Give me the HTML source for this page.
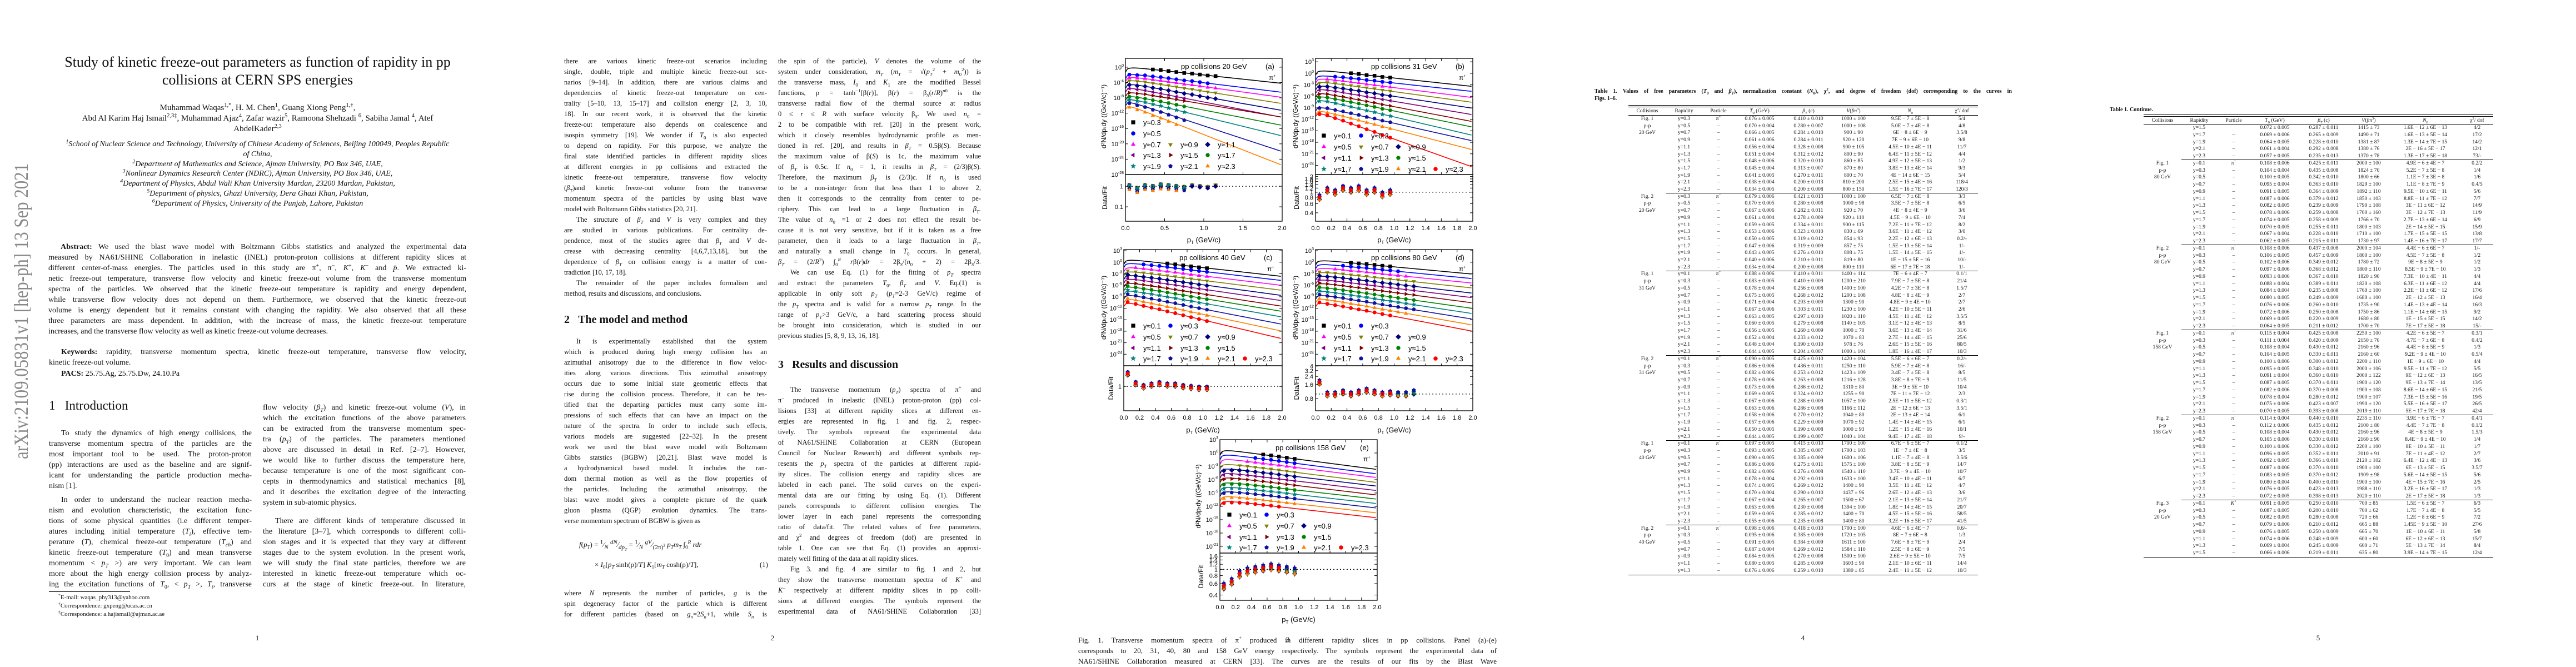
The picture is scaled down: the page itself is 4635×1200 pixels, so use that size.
<!DOCTYPE html>
<html><head><meta charset="utf-8">
<style>
html,body{margin:0;padding:0;background:#fff;}
body{width:4635px;height:1200px;position:relative;overflow:hidden;font-family:"Liberation Serif",serif;color:#111;}
.page{position:absolute;top:0;width:927px;height:1200px;overflow:hidden;background:#fff;}
.col{position:absolute;width:365px;}
.p1 .col{font-size:14px;}
.p2 .col{font-size:12.5px;}
.col div{height:19px;line-height:19px;text-align:justify;text-align-last:justify;overflow:hidden;}
.col div.e{text-align-last:left;}
.col div.i{text-indent:22px;}
.pn{position:absolute;top:1140px;left:440px;width:46px;text-align:center;font-size:13px;}
.head{position:absolute;font-weight:bold;white-space:nowrap;}
.cen{position:absolute;text-align:center;white-space:nowrap;}
.tc{position:absolute;width:140px;text-align:center;font-size:9.6px;line-height:12px;white-space:nowrap;font-family:"Liberation Serif",serif;}
.rule{position:absolute;height:0;border-top:1px solid #000;}
sup{font-size:70%;line-height:0;}
sub{font-size:70%;line-height:0;}
</style></head>
<body>

<!-- PAGE 1 -->
<div class="page p1" style="left:0">
  <svg style="position:absolute;left:0;top:280px" width="80" height="560">
    <text x="0" y="0" transform="translate(50,546) rotate(-90)" font-family="Liberation Serif" font-size="36" fill="#888" textLength="532" lengthAdjust="spacingAndGlyphs">arXiv:2109.05831v1  [hep-ph]  13 Sep 2021</text>
  </svg>
  <div class="cen" style="left:0;width:927px;top:96px;font-size:26px;line-height:32px;">Study of kinetic freeze-out parameters as function of rapidity in pp<br>collisions at CERN SPS energies</div>
  <div class="cen" style="left:0;width:927px;top:185px;font-size:15px;line-height:19px;">Muhammad Waqas<sup>1,*</sup>, H. M. Chen<sup>1</sup>, Guang Xiong Peng<sup>1,†</sup>,<br>Abd Al Karim Haj Ismail<sup>2,3‡</sup>, Muhammad Ajaz<sup>4</sup>, Zafar wazir<sup>5</sup>, Ramoona Shehzadi <sup>6</sup>, Sabiha Jamal <sup>4</sup>, Atef<br>AbdelKader<sup>2,3</sup></div>
  <div class="cen" style="left:0;width:927px;top:251px;font-size:14px;line-height:17.8px;font-style:italic;"><sup>1</sup>School of Nuclear Science and Technology, University of Chinese Academy of Sciences, Beijing 100049, Peoples Republic<br>of China,<br><sup>2</sup>Department of Mathematics and Science, Ajman University, PO Box 346, UAE,<br><sup>3</sup>Nonlinear Dynamics Research Center (NDRC), Ajman University, PO Box 346, UAE,<br><sup>4</sup>Department of Physics, Abdul Wali Khan University Mardan, 23200 Mardan, Pakistan,<br><sup>5</sup>Department of physics, Ghazi University, Dera Ghazi Khan, Pakistan,<br><sup>6</sup>Department of Physics, University of the Punjab, Lahore, Pakistan</div>
  <div class="col" style="left:87px;width:752px;top:435px;">
    <div class="i"><b>Abstract:</b> We used the blast wave model with Boltzmann Gibbs statistics and analyzed the experimental data</div>
    <div>measured by NA61/SHINE Collaboration in inelastic (INEL) proton-proton collisions at different rapidity slices at</div>
    <div>different center-of-mass energies. The particles used in this study are π<sup>+</sup>, π<sup>−</sup>, <i>K</i><sup>+</sup>, <i>K</i><sup>−</sup> and <i>p̄</i>. We extracted ki-</div>
    <div>netic freeze-out temperature, transverse flow velocity and kinetic freeze-out volume from the transverse momentum</div>
    <div>spectra of the particles. We observed that the kinetic freeze-out temperature is rapidity and energy dependent,</div>
    <div>while transverse flow velocity does not depend on them. Furthermore, we observed that the kinetic freeze-out</div>
    <div>volume is energy dependent but it remains constant with changing the rapidity. We also observed that all these</div>
    <div>three parameters are mass dependent. In addition, with the increase of mass, the kinetic freeze-out temperature</div>
    <div class="e">increases, and the transverse flow velocity as well as kinetic freeze-out volume decreases.</div>
  </div>
  <div class="col" style="left:88px;width:751px;top:624px;">
    <div class="i"><b>Keywords:</b> rapidity, transverse momentum spectra, kinetic freeze-out temperature, transverse flow velocity,</div>
    <div class="e">kinetic freeze-out volume.</div>
    <div class="e i" style="margin-top:1px"><b>PACS:</b> 25.75.Ag, 25.75.Dw, 24.10.Pa</div>
  </div>
  <div class="head" style="left:88px;top:717px;font-size:23px;font-weight:normal;">1&nbsp;&nbsp;&nbsp;Introduction</div>
  <div class="col" style="left:88px;top:770px;">
    <div class="i">To study the dynamics of high energy collisions, the</div>
    <div>transverse momentum spectra of the particles are the</div>
    <div>most important tool to be used. The proton-proton</div>
    <div>(pp) interactions are used as the baseline and are signif-</div>
    <div>icant for understanding the particle production mecha-</div>
    <div class="e">nism [1].</div>
    <div class="i" style="margin-top:6px">In order to understand the nuclear reaction mecha-</div>
    <div>nism and evolution characteristic, the excitation func-</div>
    <div>tions of some physical quantities (i.e different temper-</div>
    <div>atures including initial temperature (<i>T<sub>i</sub></i>), effective tem-</div>
    <div>perature (<i>T</i>), chemical freeze-out temperature (<i>T<sub>ch</sub></i>) and</div>
    <div>kinetic freeze-out temperature (<i>T</i><sub>0</sub>) and mean transverse</div>
    <div>momentum &lt; <i>p<sub>T</sub></i> &gt;) are very important. We can learn</div>
    <div>more about the high energy collision process by analyz-</div>
    <div>ing the excitation functions of <i>T</i><sub>0</sub>, &lt; <i>p<sub>T</sub></i> &gt;, <i>T<sub>i</sub></i>, transverse</div>
  </div>
  <div class="rule" style="left:88px;top:1064px;width:146px;"></div>
  <div style="position:absolute;left:105px;top:1068px;font-size:11px;line-height:15px;"><sup>*</sup>E-mail: waqas_phy313@yahoo.com<br><sup>†</sup>Correspondence: gxpeng@ucas.ac.cn<br><sup>‡</sup>Correspondence: a.hajismail@ajman.ac.ae</div>
  <div class="col" style="left:473px;top:724px;">
    <div>flow velocity (<i>β<sub>T</sub></i>) and kinetic freeze-out volume (<i>V</i>), in</div>
    <div>which the excitation functions of the above parameters</div>
    <div>can be extracted from the transverse momentum spec-</div>
    <div>tra (<i>p<sub>T</sub></i>) of the particles. The parameters mentioned</div>
    <div>above are discussed in detail in Ref. [2–7]. However,</div>
    <div>we would like to further discuss the temperature here,</div>
    <div>because temperature is one of the most significant con-</div>
    <div>cepts in thermodynamics and statistical mechanics [8],</div>
    <div>and it describes the excitation degree of the interacting</div>
    <div class="e">system in sub-atomic physics.</div>
    <div class="i" style="margin-top:14px">There are different kinds of temperature discussed in</div>
    <div>the literature [3–7], which corresponds to different colli-</div>
    <div>sion stages and it is expected that they vary at different</div>
    <div>stages due to the system evolution. In the present work,</div>
    <div>we will study the final state particles, therefore we are</div>
    <div>interested in kinetic freeze-out temperature which oc-</div>
    <div>curs at the stage of kinetic freeze-out. In literature,</div>
  </div>
  <div class="pn">1</div>
</div>

<!-- PAGE 2 -->
<div class="page p2" style="left:927px">
  <div class="col" style="left:88px;top:101px;">
    <div>there are various kinetic freeze-out scenarios including</div>
    <div>single, double, triple and multiple kinetic freeze-out sce-</div>
    <div>narios [9–14]. In addition, there are various claims and</div>
    <div>dependencies of kinetic freeze-out temperature on cen-</div>
    <div>trality [5–10, 13, 15–17] and collision energy [2, 3, 10,</div>
    <div>18]. In our recent work, it is observed that the kinetic</div>
    <div>freeze-out temperature also depends on coalescence and</div>
    <div>isospin symmetry [19]. We wonder if <i>T</i><sub>0</sub> is also expected</div>
    <div>to depend on rapidity. For this purpose, we analyze the</div>
    <div>final state identified particles in different rapidity slices</div>
    <div>at different energies in pp collisions and extracted the</div>
    <div>kinetic freeze-out temperature, transverse flow velocity</div>
    <div>(<i>β<sub>T</sub></i>)and kinetic freeze-out volume from the transverse</div>
    <div>momentum spectra of the particles by using blast wave</div>
    <div class="e">model with Boltzmann Gibbs statistics [20, 21].</div>
    <div class="i">The structure of <i>β<sub>T</sub></i> and <i>V</i> is very complex and they</div>
    <div>are studied in various publications. For centrality de-</div>
    <div>pendence, most of the studies agree that <i>β<sub>T</sub></i> and <i>V</i> de-</div>
    <div>crease with decreasing centrality [4,6,7,13,18], but the</div>
    <div>dependence of <i>β<sub>T</sub></i> on collision energy is a matter of con-</div>
    <div class="e">tradiction [10, 17, 18].</div>
    <div class="i">The remainder of the paper includes formalism and</div>
    <div class="e">method, results and discussions, and conclusions.</div>
  </div>
  <div class="head" style="left:88px;top:564px;font-size:20px;">2&nbsp;&nbsp;&nbsp;The model and method</div>
  <div class="col" style="left:88px;top:605px;">
    <div class="i">It is experimentally established that the system</div>
    <div>which is produced during high energy collision has an</div>
    <div>azimuthal anisotropy due to the difference in flow veloc-</div>
    <div>ities along various directions. This azimuthal anisotropy</div>
    <div>occurs due to some initial state geometric effects that</div>
    <div>rise during the collision process. Therefore, it can be tes-</div>
    <div>tified that the departing particles must carry some im-</div>
    <div>pressions of such effects that can have an impact on the</div>
    <div>nature of the spectra. In order to include such effects,</div>
    <div>various models are suggested [22–32]. In the present</div>
    <div>work we used the blast wave model with Boltzmann</div>
    <div>Gibbs statstics (BGBW) [20,21]. Blast wave model is</div>
    <div>a hydrodynamical based model. It includes the ran-</div>
    <div>dom thermal motion as well as the flow properties of</div>
    <div>the particles. Including the azimuthal anisotropy, the</div>
    <div>blast wave model gives a complete picture of the quark</div>
    <div>gluon plasma (QGP) evolution dynamics. The trans-</div>
    <div class="e">verse momentum spectrum of BGBW is given as</div>
  </div>
  <div style="position:absolute;left:115px;top:962px;width:335px;font-size:13px;">
    <div style="height:36px;line-height:36px;"><i>f</i>(<i>p<sub>T</sub></i>) = <sup style="font-size:11px">1</sup>⁄<sub style="font-size:11px"><i>N</i></sub> <sup style="font-size:11px"><i>dN</i></sup>⁄<sub style="font-size:11px"><i>dp<sub>T</sub></i></sub> = <sup style="font-size:11px">1</sup>⁄<sub style="font-size:11px"><i>N</i></sub> <sup style="font-size:11px"><i>gV</i></sup>⁄<sub style="font-size:11px">(2π)<sup>2</sup></sub> <i>p<sub>T</sub>m<sub>T</sub></i> ∫<sub>0</sub><sup><i>R</i></sup> <i>rdr</i></div>
    <div style="height:36px;line-height:36px;padding-left:28px;">× <i>I</i><sub>0</sub>[<i>p<sub>T</sub></i> sinh(ρ)/<i>T</i>] <i>K</i><sub>1</sub>[<i>m<sub>T</sub></i> cosh(ρ)/<i>T</i>],<span style="position:absolute;right:-5px">(1)</span></div>
  </div>
  <div class="col" style="left:88px;top:1058px;">
    <div>where <i>N</i> represents the number of particles, <i>g</i> is the</div>
    <div>spin degeneracy factor of the particle which is different</div>
    <div>for different particles (based on <i>g<sub>n</sub></i>=2<i>S<sub>n</sub></i>+1, while <i>S<sub>n</sub></i> is</div>
  </div>
  <div class="col" style="left:473px;top:101px;">
    <div>the spin of the particle), <i>V</i> denotes the volume of the</div>
    <div>system under consideration, <i>m<sub>T</sub></i> (<i>m<sub>T</sub></i> = √(<i>p<sub>T</sub></i><sup>2</sup> + <i>m</i><sub>0</sub><sup>2</sup>)) is</div>
    <div>the transverse mass, <i>I</i><sub>0</sub> and <i>K</i><sub>1</sub> are the modified Bessel</div>
    <div>functions, ρ = tanh<sup>−1</sup>[β(<i>r</i>)], β(<i>r</i>) = β<sub><i>S</i></sub>(<i>r</i>/<i>R</i>)<sup><i>n</i>0</sup> is the</div>
    <div>transverse radial flow of the thermal source at radius</div>
    <div>0 ≤ <i>r</i> ≤ <i>R</i> with surface velocity β<sub><i>S</i></sub>. We used <i>n</i><sub>0</sub> =</div>
    <div>2 to be compatible with ref. [20] in the present work,</div>
    <div>which it closely resembles hydrodynamic profile as men-</div>
    <div>tioned in ref. [20], and results in <i>β<sub>T</sub></i> = 0.5β(<i>S</i>). Because</div>
    <div>the maximum value of β(<i>S</i>) is 1c, the maximum value</div>
    <div>of <i>β<sub>T</sub></i> is 0.5c. If <i>n</i><sub>0</sub> = 1, it results in <i>β<sub>T</sub></i> = (2/3)β(<i>S</i>).</div>
    <div>Therefore, the maximum <i>β<sub>T</sub></i> is (2/3)c. If <i>n</i><sub>0</sub> is used</div>
    <div>to be a non-integer from that less than 1 to above 2,</div>
    <div>then it corresponds to the centrality from center to pe-</div>
    <div>riphery. This can lead to a large fluctuation in <i>β<sub>T</sub></i>.</div>
    <div>The value of <i>n</i><sub>0</sub> =1 or 2 does not effect the result be-</div>
    <div>cause it is not very sensitive, but if it is taken as a free</div>
    <div>parameter, then it leads to a large fluctuation in <i>β<sub>T</sub></i>,</div>
    <div>and naturally a small change in <i>T</i><sub>0</sub> occurs. In general,</div>
    <div><i>β<sub>T</sub></i> = (2/<i>R</i><sup>2</sup>) ∫<sub>0</sub><sup><i>R</i></sup> <i>r</i>β(<i>r</i>)<i>dr</i> = 2β<sub><i>S</i></sub>/(<i>n</i><sub>0</sub> + 2) = 2β<sub><i>S</i></sub>/3.</div>
    <div class="i">We can use Eq. (1) for the fitting of <i>p<sub>T</sub></i> spectra</div>
    <div>and extract the parameters <i>T</i><sub>0</sub>, <i>β<sub>T</sub></i> and <i>V</i>. Eq.(1) is</div>
    <div>applicable in only soft <i>p<sub>T</sub></i> (<i>p<sub>T</sub></i>=2-3 GeV/c) regime of</div>
    <div>the <i>p<sub>T</sub></i> spectra and is valid for a narrow <i>p<sub>T</sub></i> range. In the</div>
    <div>range of <i>p<sub>T</sub></i>&gt;3 GeV/c, a hard scattering process should</div>
    <div>be brought into consideration, which is studied in our</div>
    <div class="e">previous studies [5, 8, 9, 13, 16, 18].</div>
  </div>
  <div class="head" style="left:473px;top:645px;font-size:20px;">3&nbsp;&nbsp;&nbsp;Results and discussion</div>
  <div class="col" style="left:473px;top:692px;">
    <div class="i">The transverse momentum (<i>p<sub>T</sub></i>) spectra of π<sup>+</sup> and</div>
    <div>π<sup>−</sup> produced in inelastic (INEL) proton-proton (pp) col-</div>
    <div>lisions [33] at different rapidity slices at different en-</div>
    <div>ergies are represented in fig. 1 and fig. 2, respec-</div>
    <div>tively. The symbols represent the experimental data</div>
    <div>of NA61/SHINE Collaboration at CERN (European</div>
    <div>Council for Nuclear Research) and different symbols rep-</div>
    <div>resents the <i>p<sub>T</sub></i> spectra of the particles at different rapid-</div>
    <div>ity slices. The collision energy and rapidity slices are</div>
    <div>labeled in each panel. The solid curves on the experi-</div>
    <div>mental data are our fitting by using Eq. (1). Different</div>
    <div>panels corresponds to different collision energies. The</div>
    <div>lower layer in each panel represents the corresponding</div>
    <div>ratio of data/fit. The related values of free parameters,</div>
    <div>and χ<sup>2</sup> and degrees of freedom (dof) are presented in</div>
    <div>table 1. One can see that Eq. (1) provides an approxi-</div>
    <div class="e">mately well fitting of the data at all rapidity slices.</div>
    <div class="i">Fig 3. and fig. 4 are similar to fig. 1 and 2, but</div>
    <div>they show the transverse momentum spectra of <i>K</i><sup>+</sup> and</div>
    <div><i>K</i><sup>−</sup> respectively at different rapidity slices in pp colli-</div>
    <div>sions at different energies. The symbols represent the</div>
    <div>experimental data of NA61/SHINE Collaboration [33]</div>
  </div>
  <div class="pn">2</div>
</div>

<!-- PAGE 3 -->
<div class="page p3" style="left:1854px">
  <svg id="fig" width="927" height="1200" style="position:absolute;left:0;top:0" font-family="Liberation Sans, sans-serif"></svg>
  <div class="pn" style="top:1143px">3</div>
  <div class="col" style="left:86px;width:753px;top:1142px;font-size:13px;">
    <div>Fig. 1. Transverse momentum spectra of π<sup>+</sup> produced in different rapidity slices in pp collisions. Panel (a)-(e)</div>
    <div>corresponds to 20, 31, 40, 80 and 158 GeV energy respectively. The symbols represent the experimental data of</div>
    <div>NA61/SHINE Collaboration measured at CERN [33]. The curves are the results of our fits by the Blast Wave</div>
  </div>
</div>

<!-- PAGE 4 -->
<div class="page p4" id="page4" style="left:2781px">
  <div class="col" style="left:88px;width:751px;top:158px;font-size:10px;font-weight:bold;">
    <div style="height:13px;line-height:13px">Table 1. Values of free parameters (<i>T</i><sub>0</sub> and <i>β<sub>T</sub></i>), normalization constant (<i>N</i><sub>0</sub>), χ<sup>2</sup>, and degree of freedom (dof) corresponding to the curves in</div>
    <div class="e" style="height:13px;line-height:13px">Figs. 1–6.</div>
  </div>
  <div class="pn">4</div>
</div>

<!-- PAGE 5 -->
<div class="page p5" id="page5" style="left:3708px">
  <div style="position:absolute;left:88px;top:192px;font-size:10px;font-weight:bold;">Table 1. Continue.</div>
  <div class="pn">5</div>
</div>

<script>
// ================= TABLE DATA =================
const tableHeaders = ['Collisions','Rapidity','Particle','<i>T</i><sub>0</sub> (GeV)','<i>β<sub>T</sub></i> (c)','<i>V</i>(<i>fm</i><sup>3</sup>)','<i>N</i><sub>0</sub>','χ<sup>2</sup>/ dof'];
const page4Groups = [
 {lab:['Fig. 1','p-p','20 GeV'], part:'π<sup>+</sup>', rows:[
 'y=0.3|0.076 ± 0.005|0.410 ± 0.010|1000 ± 100|9.5E − 7 ± 5E − 8|5/4',
 'y=0.5|0.070 ± 0.004|0.280 ± 0.007|1000 ± 108|5.0E − 7 ± 4E − 8|4/8',
 'y=0.7|0.066 ± 0.005|0.284 ± 0.010|900 ± 90|6E − 8 ± 6E − 9|3.5/8',
 'y=0.9|0.061 ± 0.006|0.284 ± 0.011|920 ± 120|7E − 9 ± 6E − 10|9/8',
 'y=1.1|0.056 ± 0.004|0.328 ± 0.008|900 ± 105|4.5E − 10 ± 4E − 11|11/7',
 'y=1.3|0.051 ± 0.004|0.312 ± 0.012|800 ± 90|6.4E − 11 ± 5E − 12|4/4',
 'y=1.5|0.048 ± 0.006|0.320 ± 0.010|860 ± 85|4.9E − 12 ± 5E − 13|1/2',
 'y=1.7|0.045 ± 0.004|0.313 ± 0.007|870 ± 80|3.8E − 13 ± 4E − 14|9/3',
 'y=1.9|0.041 ± 0.005|0.270 ± 0.011|800 ± 70|4E − 14 ± 6E − 15|5/4',
 'y=2.1|0.038 ± 0.004|0.200 ± 0.013|810 ± 200|2.5E − 15 ± 4E − 16|118/4',
 'y=2.3|0.034 ± 0.005|0.200 ± 0.008|800 ± 150|1.5E − 16 ± 7E − 17|120/3']},
 {lab:['Fig. 2','p-p','20 GeV'], part:'π<sup>−</sup>', rows:[
 'y=0.3|0.079 ± 0.006|0.421 ± 0.013|1000 ± 100|6.5E − 7 ± 6E − 8|3/3',
 'y=0.5|0.070 ± 0.005|0.280 ± 0.008|1000 ± 98|3.5E − 7 ± 5E − 8|6/5',
 'y=0.7|0.067 ± 0.006|0.282 ± 0.011|920 ± 70|4E − 8 ± 4E − 9|3/6',
 'y=0.9|0.061 ± 0.004|0.278 ± 0.009|920 ± 110|4.5E − 9 ± 6E − 10|7/4',
 'y=1.1|0.059 ± 0.005|0.334 ± 0.011|900 ± 115|7.2E − 11 ± 7E − 12|8/2',
 'y=1.3|0.053 ± 0.006|0.323 ± 0.010|830 ± 69|3.6E − 11 ± 4E − 12|3/0',
 'y=1.5|0.050 ± 0.005|0.319 ± 0.012|854 ± 93|2.2E − 12 ± 6E − 13|0.2/-',
 'y=1.7|0.047 ± 0.006|0.319 ± 0.009|857 ± 75|1.5E − 13 ± 5E − 14|1/-',
 'y=1.9|0.043 ± 0.005|0.276 ± 0.010|808 ± 75|1.5E − 14 ± 5E − 15|1/-',
 'y=2.1|0.040 ± 0.006|0.210 ± 0.011|819 ± 80|1E − 15 ± 5E − 16|10/-',
 'y=2.3|0.034 ± 0.004|0.200 ± 0.008|800 ± 110|6E − 17 ± 7E − 18|1/-']},
 {lab:['Fig. 1','p-p','31 GeV'], part:'π<sup>+</sup>', rows:[
 'y=0.1|0.088 ± 0.006|0.410 ± 0.011|1400 ± 114|7E − 6 ± 4E − 7|0.1/1',
 'y=0.3|0.083 ± 0.005|0.410 ± 0.009|1200 ± 210|7.9E − 7 ± 5E − 8|21/4',
 'y=0.5|0.078 ± 0.004|0.256 ± 0.008|1400 ± 100|4.2E − 7 ± 3E − 8|1.5/7',
 'y=0.7|0.075 ± 0.005|0.268 ± 0.012|1200 ± 108|4.8E − 8 ± 4E − 9|2/7',
 'y=0.9|0.071 ± 0.004|0.293 ± 0.009|1300 ± 90|4.8E − 9 ± 4E − 10|2/7',
 'y=1.1|0.067 ± 0.006|0.303 ± 0.011|1230 ± 100|4.2E − 10 ± 5E − 11|2/6',
 'y=1.3|0.063 ± 0.005|0.297 ± 0.010|1020 ± 110|4.5E − 11 ± 4E − 12|3.5/5',
 'y=1.5|0.060 ± 0.005|0.279 ± 0.008|1140 ± 105|3.1E − 12 ± 4E − 13|8/5',
 'y=1.7|0.056 ± 0.005|0.260 ± 0.009|1000 ± 70|3.6E − 13 ± 4E − 14|31/6',
 'y=1.9|0.052 ± 0.004|0.233 ± 0.012|1070 ± 83|2.7E − 14 ± 4E − 15|25/6',
 'y=2.1|0.048 ± 0.004|0.190 ± 0.010|978 ± 76|2.6E − 15 ± 5E − 16|80/5',
 'y=2.3|0.044 ± 0.005|0.204 ± 0.007|1000 ± 104|1.8E − 16 ± 4E − 17|10/3']},
 {lab:['Fig. 2','p-p','31 GeV'], part:'π<sup>−</sup>', rows:[
 'y=0.1|0.090 ± 0.005|0.425 ± 0.010|1420 ± 104|5.5E − 6 ± 6E − 7|0.2/-',
 'y=0.3|0.086 ± 0.006|0.436 ± 0.011|1250 ± 110|5.9E − 7 ± 4E − 8|16/-',
 'y=0.5|0.082 ± 0.006|0.253 ± 0.012|1423 ± 109|3.4E − 7 ± 5E − 8|8/5',
 'y=0.7|0.078 ± 0.006|0.263 ± 0.008|1216 ± 128|3.8E − 8 ± 7E − 9|11/5',
 'y=0.9|0.073 ± 0.006|0.286 ± 0.012|1310 ± 80|3E − 9 ± 5E − 10|10/4',
 'y=1.1|0.069 ± 0.005|0.324 ± 0.012|1255 ± 90|7E − 11 ± 7E − 12|2/3',
 'y=1.3|0.067 ± 0.006|0.288 ± 0.009|1057 ± 100|2.5E − 11 ± 5E − 12|0.3/1',
 'y=1.5|0.063 ± 0.006|0.286 ± 0.008|1166 ± 112|2E − 12 ± 6E − 13|3.5/1',
 'y=1.7|0.058 ± 0.006|0.270 ± 0.012|1040 ± 80|2E − 13 ± 4E − 14|6/1',
 'y=1.9|0.057 ± 0.006|0.229 ± 0.009|1070 ± 92|1.4E − 14 ± 4E − 15|6/1',
 'y=2.1|0.050 ± 0.005|0.190 ± 0.008|1000 ± 93|1.2E − 15 ± 4E − 16|10/1',
 'y=2.3|0.044 ± 0.005|0.199 ± 0.007|1040 ± 104|9.4E − 17 ± 4E − 18|9/-']},
 {lab:['Fig. 1','p-p','40 GeV'], part:'π<sup>+</sup>', rows:[
 'y=0.1|0.097 ± 0.005|0.415 ± 0.010|1700 ± 100|6.7E − 6 ± 5E − 7|0.1/2',
 'y=0.3|0.093 ± 0.005|0.385 ± 0.007|1700 ± 103|1E − 7 ± 4E − 8|3/5',
 'y=0.5|0.090 ± 0.005|0.385 ± 0.009|1600 ± 106|1.1E − 7 ± 4E − 8|3.5/6',
 'y=0.7|0.086 ± 0.006|0.275 ± 0.011|1575 ± 100|3.8E − 8 ± 5E − 9|14/7',
 'y=0.9|0.082 ± 0.006|0.276 ± 0.008|1540 ± 110|3.7E − 9 ± 4E − 10|10/7',
 'y=1.1|0.078 ± 0.004|0.292 ± 0.010|1633 ± 100|3.4E − 10 ± 4E − 11|6/7',
 'y=1.3|0.074 ± 0.005|0.269 ± 0.012|1400 ± 90|3.5E − 11 ± 4E − 12|4/7',
 'y=1.5|0.070 ± 0.004|0.290 ± 0.010|1437 ± 96|2.6E − 12 ± 4E − 13|3/6',
 'y=1.7|0.067 ± 0.004|0.265 ± 0.007|1500 ± 67|2.1E − 13 ± 5E − 14|21/7',
 'y=1.9|0.063 ± 0.006|0.230 ± 0.008|1394 ± 100|1.8E − 14 ± 4E − 15|20/7',
 'y=2.1|0.059 ± 0.005|0.285 ± 0.012|1400 ± 70|4.5E − 15 ± 5E − 16|58/5',
 'y=2.3|0.055 ± 0.006|0.235 ± 0.008|1400 ± 80|3.2E − 16 ± 5E − 17|41/5']},
 {lab:['Fig. 2','p-p','40 GeV'], part:'π<sup>−</sup>', rows:[
 'y=0.1|0.098 ± 0.006|0.418 ± 0.010|1700 ± 100|4.6E − 6 ± 4E − 7|0.6/-',
 'y=0.3|0.095 ± 0.006|0.385 ± 0.009|1720 ± 105|8E − 7 ± 6E − 8|1/3',
 'y=0.5|0.091 ± 0.005|0.384 ± 0.009|1611 ± 100|7.6E − 8 ± 7E − 9|2/4',
 'y=0.7|0.087 ± 0.004|0.269 ± 0.012|1584 ± 110|2.5E − 8 ± 6E − 9|7/5',
 'y=0.9|0.084 ± 0.005|0.270 ± 0.008|1500 ± 100|2.6E − 9 ± 5E − 10|7/5',
 'y=1.1|0.080 ± 0.005|0.285 ± 0.009|1603 ± 90|2.1E − 10 ± 6E − 11|14/4',
 'y=1.3|0.076 ± 0.006|0.259 ± 0.010|1380 ± 85|2.4E − 11 ± 5E − 12|10/3']}
];
const page5Groups = [
 {lab:['','',''], part:'', rows:[
 'y=1.5|0.072 ± 0.005|0.287 ± 0.011|1415 ± 73|1.6E − 12 ± 6E − 13|4/2',
 'y=1.7|0.069 ± 0.006|0.265 ± 0.009|1490 ± 71|1.6E − 13 ± 5E − 14|17/2',
 'y=1.9|0.064 ± 0.005|0.228 ± 0.010|1381 ± 87|1.3E − 14 ± 7E − 15|14/2',
 'y=2.1|0.061 ± 0.004|0.292 ± 0.008|1380 ± 76|2E − 16 ± 5E − 17|12/1',
 'y=2.3|0.057 ± 0.005|0.235 ± 0.013|1370 ± 78|1.3E − 17 ± 5E − 18|73/-']},
 {lab:['Fig. 1','p-p','80 GeV'], part:'π<sup>+</sup>', rows:[
 'y=0.1|0.108 ± 0.006|0.425 ± 0.011|2000 ± 100|4.9E − 6 ± 4E − 7|0.2/2',
 'y=0.3|0.104 ± 0.004|0.435 ± 0.008|1824 ± 70|5.2E − 7 ± 5E − 8|1/4',
 'y=0.5|0.100 ± 0.005|0.342 ± 0.010|1800 ± 66|1.1E − 7 ± 3E − 8|1/6',
 'y=0.7|0.095 ± 0.004|0.363 ± 0.010|1829 ± 100|1.1E − 8 ± 7E − 9|0.4/5',
 'y=0.9|0.091 ± 0.005|0.364 ± 0.009|1892 ± 110|9.5E − 10 ± 6E − 11|5/6',
 'y=1.1|0.087 ± 0.006|0.379 ± 0.012|1850 ± 103|8.8E − 11 ± 7E − 12|7/7',
 'y=1.3|0.082 ± 0.005|0.239 ± 0.009|1790 ± 108|3E − 11 ± 6E − 12|14/9',
 'y=1.5|0.078 ± 0.006|0.259 ± 0.008|1700 ± 160|3E − 12 ± 7E − 13|11/9',
 'y=1.7|0.074 ± 0.005|0.258 ± 0.009|1766 ± 70|2.7E − 13 ± 6E − 14|6/9',
 'y=1.9|0.070 ± 0.005|0.255 ± 0.011|1800 ± 103|2E − 14 ± 5E − 15|15/9',
 'y=2.1|0.067 ± 0.004|0.228 ± 0.010|1710 ± 100|1.7E − 15 ± 5E − 15|13/8',
 'y=2.3|0.062 ± 0.005|0.215 ± 0.011|1730 ± 97|1.4E − 16 ± 7E − 17|17/7']},
 {lab:['Fig. 2','p-p','80 GeV'], part:'π<sup>−</sup>', rows:[
 'y=0.1|0.108 ± 0.006|0.437 ± 0.008|2000 ± 104|4.4E − 6 ± 6E − 7|1/-',
 'y=0.3|0.106 ± 0.005|0.457 ± 0.009|1800 ± 100|4.5E − 7 ± 5E − 8|1/2',
 'y=0.5|0.102 ± 0.006|0.349 ± 0.012|1780 ± 72|9E − 8 ± 5E − 9|1/2',
 'y=0.7|0.097 ± 0.006|0.368 ± 0.012|1800 ± 110|8.5E − 9 ± 7E − 10|1/3',
 'y=0.9|0.093 ± 0.006|0.367 ± 0.010|1820 ± 90|7.3E − 10 ± 4E − 11|4/4',
 'y=1.1|0.088 ± 0.004|0.389 ± 0.011|1820 ± 108|6.3E − 11 ± 6E − 12|4/4',
 'y=1.3|0.084 ± 0.004|0.235 ± 0.008|1760 ± 100|2.2E − 11 ± 6E − 12|17/6',
 'y=1.5|0.080 ± 0.005|0.249 ± 0.009|1680 ± 100|2E − 12 ± 5E − 13|16/4',
 'y=1.7|0.076 ± 0.006|0.260 ± 0.010|1735 ± 90|1.4E − 13 ± 4E − 14|16/3',
 'y=1.9|0.072 ± 0.006|0.250 ± 0.008|1750 ± 86|1.1E − 14 ± 6E − 15|9/2',
 'y=2.1|0.069 ± 0.005|0.220 ± 0.009|1680 ± 80|1E − 15 ± 5E − 15|14/2',
 'y=2.3|0.064 ± 0.005|0.211 ± 0.012|1700 ± 70|7E − 17 ± 5E − 18|15/-']},
 {lab:['Fig. 1','p-p','158 GeV'], part:'π<sup>+</sup>', rows:[
 'y=0.1|0.115 ± 0.004|0.425 ± 0.008|2250 ± 100|4.2E − 6 ± 5E − 7|0.3/1',
 'y=0.3|0.111 ± 0.004|0.420 ± 0.009|2150 ± 70|4.7E − 7 ± 6E − 8|0.4/2',
 'y=0.5|0.108 ± 0.004|0.430 ± 0.012|2160 ± 96|4.4E − 8 ± 5E − 9|1/3',
 'y=0.7|0.104 ± 0.005|0.330 ± 0.011|2160 ± 60|9.2E − 9 ± 4E − 10|0.5/4',
 'y=0.9|0.100 ± 0.006|0.300 ± 0.012|2200 ± 110|1E − 9 ± 6E − 10|4/4',
 'y=1.1|0.095 ± 0.005|0.348 ± 0.010|2000 ± 106|9.5E − 11 ± 7E − 12|5/5',
 'y=1.3|0.091 ± 0.004|0.360 ± 0.010|2000 ± 122|9E − 12 ± 6E − 13|16/5',
 'y=1.5|0.087 ± 0.005|0.370 ± 0.011|1900 ± 120|9E − 13 ± 7E − 14|13/5',
 'y=1.7|0.082 ± 0.006|0.370 ± 0.008|1900 ± 108|8.6E − 14 ± 6E − 15|21/5',
 'y=1.9|0.078 ± 0.004|0.280 ± 0.012|1900 ± 107|7.3E − 15 ± 5E − 16|19/5',
 'y=2.1|0.075 ± 0.006|0.423 ± 0.007|1990 ± 120|5.5E − 16 ± 5E − 17|26/5',
 'y=2.3|0.070 ± 0.005|0.393 ± 0.008|2019 ± 110|5E − 17 ± 7E − 18|42/4']},
 {lab:['Fig. 2','p-p','158 GeV'], part:'π<sup>−</sup>', rows:[
 'y=0.1|0.114 ± 0.004|0.440 ± 0.010|2235 ± 110|3.9E − 6 ± 7E − 7|0.4/1',
 'y=0.3|0.112 ± 0.006|0.435 ± 0.012|2100 ± 80|4.4E − 7 ± 7E − 8|0.1/2',
 'y=0.5|0.108 ± 0.004|0.430 ± 0.012|2160 ± 96|4E − 8 ± 5E − 9|1.5/3',
 'y=0.7|0.105 ± 0.006|0.330 ± 0.010|2160 ± 90|8.4E − 9 ± 4E − 10|1/4',
 'y=0.9|0.100 ± 0.006|0.330 ± 0.012|2200 ± 100|8E − 10 ± 5E − 11|1/7',
 'y=1.1|0.096 ± 0.005|0.352 ± 0.011|2010 ± 91|7E − 11 ± 4E − 12|2/7',
 'y=1.3|0.092 ± 0.005|0.366 ± 0.010|2120 ± 102|6.4E − 12 ± 4E − 13|3/6',
 'y=1.5|0.087 ± 0.006|0.370 ± 0.010|1900 ± 100|6E − 13 ± 5E − 15|3.5/7',
 'y=1.7|0.083 ± 0.005|0.370 ± 0.012|1909 ± 98|5.6E − 14 ± 5E − 15|5/6',
 'y=1.9|0.080 ± 0.004|0.400 ± 0.010|1900 ± 100|4E − 15 ± 7E − 16|2/5',
 'y=2.1|0.076 ± 0.005|0.423 ± 0.013|1988 ± 110|3.2E − 16 ± 5E − 17|1/3',
 'y=2.3|0.072 ± 0.005|0.398 ± 0.013|2020 ± 110|2E − 17 ± 5E − 18|1/3']},
 {lab:['Fig. 3','p-p','20 GeV'], part:'<i>K</i><sup>+</sup>', rows:[
 'y=0.1|0.091 ± 0.005|0.250 ± 0.010|700 ± 85|1.5E − 6 ± 5E − 7|6/3',
 'y=0.3|0.087 ± 0.005|0.200 ± 0.010|700 ± 62|1.7E − 7 ± 4E − 8|5/5',
 'y=0.5|0.082 ± 0.005|0.280 ± 0.008|720 ± 66|1.2E − 8 ± 6E − 9|7/2',
 'y=0.7|0.079 ± 0.006|0.210 ± 0.012|665 ± 88|1.45E − 9 ± 5E − 10|27/6',
 'y=0.9|0.076 ± 0.005|0.250 ± 0.009|665 ± 70|1E − 10 ± 6E − 11|5/8',
 'y=1.1|0.074 ± 0.006|0.248 ± 0.009|600 ± 60|6E − 12 ± 6E − 13|15/7',
 'y=1.3|0.069 ± 0.004|0.245 ± 0.009|600 ± 71|5E − 13 ± 7E − 14|8/4',
 'y=1.5|0.066 ± 0.006|0.219 ± 0.011|635 ± 80|3.9E − 14 ± 7E − 15|12/4']}
];
const colCenters=[183,249,311,385,473,554,656,749];

function buildTable(pageId, groups, topRule, headerY, firstRow, rowH){
  const pg=document.getElementById(pageId);
  const tbl=document.createElement('div');
  
  
  tbl.style.cssText='position:absolute;left:0;top:0;width:927px;height:1200px;';
  pg.appendChild(tbl);
  function rule(y,x0,x1,w){const r=document.createElement('div');r.className='rule';r.style.cssText='left:'+x0+'px;top:'+y+'px;width:'+(x1-x0)+'px;border-top-width:'+w+'px;';
    
    
    tbl.appendChild(r);}
  function cell(x,y,html,nm){const c=document.createElement('div');c.className='tc';c.style.left=(x-70)+'px';c.style.top=(y-6)+'px';c.innerHTML=html;
    
    
    tbl.appendChild(c);}
  rule(topRule-3,149,778,1.4); rule(topRule,149,778,1);
  tableHeaders.forEach((h,i)=>cell(colCenters[i],headerY,h,'table-header-cell'));
  rule(headerY+7,149,778,1);
  let r=0;
  groups.forEach((g,gi)=>{
    if(gi>0){rule(firstRow+r*rowH-6.5,217,778,1.3);}
    g.rows.forEach((row,k)=>{
      const y=firstRow+r*rowH;
      const f=row.split('|');
      if(k<3&&g.lab[k]) cell(colCenters[0],y,g.lab[k],'collision-label');
      cell(colCenters[1],y,f[0],'rapidity-cell');
      cell(colCenters[2],y,k===0?g.part:'–','particle-cell');
      for(let j=1;j<6;j++) cell(colCenters[j+2],y,f[j],'value-cell');
      r++;
    });
  });
  rule(firstRow+(r-1)*rowH+7.5,149,778,1.4);
}
buildTable('page4',page4Groups,192,200,214,12.7);
buildTable('page5',page5Groups,209,217,230,12.75);

// ================= FIGURE DATA =================
// panel (a) 20 GeV
const aRap=[0.3,0.5,0.7,0.9,1.1,1.3,1.5,1.7,1.9,2.1,2.3];
const aPeak=[-0.4,-2.2,-3.0,-3.9,-5.0,-6.1,-7.1,-8.2,-9.2,-10.3,-11.6];
const aSlope=[2.2,2.5,2.8,3.2,3.6,4.0,3.4,4.0,5.0,6.7,8.0];
const aStart=[3,0,0,0,0,0,0,0,0,0,0];
const aEnd=[11,10,11,11,11,7,7,7,7,7,6];
const aRatio=[1.1,0.8,1.1,1.0,1.2,1.1,1.0,0.9,1.1,1.0,0.9,1.1,1.0];
const aFactor=[1,1.05,0.95,1.1,0.9,1,1.05,0.95,1,0.7,0.6];
// panel (b) 31 GeV
const bRap=[0.1,0.3,0.5,0.7,0.9,1.1,1.3,1.5,1.7,1.9,2.1,2.3];
const bPeak=[0.4,-0.9,-1.8,-2.7,-3.7,-4.7,-5.8,-6.7,-7.8,-9.6,-10.7,-11.7];
const bSlope=[2.2,2.2,2.6,2.8,3.1,3.5,3.9,4.2,4.8,4.6,5.3,7.3];
const bStart=[4,2,1,0,0,0,0,0,0,0,0,0];
const bEnd=[9,9,9,9,9,9,9,9,9,9,9,9];
const bRatio=[0.8,1.1,1.0,1.2,1.1,1.2,1.0,1.1,0.9,1.0,1.0,1.0,1.0];
const bFactor=[1,1.05,0.95,1.1,0.9,1,1.05,0.95,1,1.1,0.9,1];
// panel (c) 40 GeV
const cRap=[0.1,0.3,0.5,0.7,0.9,1.1,1.3,1.5,1.7,1.9,2.1,2.3];
const cPeak=[0.3,-0.6,-1.7,-2.8,-3.8,-4.8,-5.9,-6.9,-8.0,-9.2,-10.3,-11.4];
const cSlope=[2.3,2.4,2.5,2.6,2.8,3.0,3.2,3.4,3.6,4.0,4.4,4.9];
const cStart=[5,2,1,0,0,0,0,0,0,0,0,0];
const cEnd=[10,10,10,10,10,10,10,10,10,10,10,10];
const cRatio=[2.2,1.2,1.0,1.1,1.2,1.1,1.1,1.0,0.95,0.9,0.9,1.0,1.0];
const cFactor=[1,1.05,0.95,1.1,0.9,1,1.05,0.95,1,1.1,0.9,1];
// panel (d) 80 GeV
const dRap=[0.1,0.3,0.5,0.7,0.9,1.1,1.3,1.5,1.7,1.9,2.1,2.3];
const dPeak=[0.2,-0.8,-1.8,-2.9,-3.9,-4.9,-5.9,-7.0,-8.0,-9.1,-10.1,-11.2];
const dSlope=[1.9,2.0,2.1,2.2,2.4,2.5,2.7,2.9,3.1,3.3,3.6,3.9];
const dStart=[4,3,2,0,0,0,0,0,0,0,0,0];
const dEnd=[9,10,11,12,12,12,12,12,12,12,11,9];
const dRatio=[1.8,1.0,1.0,1.1,1.0,1.1,1.2,1.1,1.0,1.05,1.0,1.0,1.1];
const dFactor=[1,1.05,0.95,1.1,0.9,1,1.05,0.95,1,1.1,0.9,1];
// panel (e) 158 GeV
const eRap=[0.1,0.3,0.5,0.7,0.9,1.1,1.3,1.5,1.7,1.9,2.1,2.3];
const ePeak=[0.3,-0.7,-1.7,-2.8,-3.8,-4.8,-5.8,-6.9,-7.9,-8.9,-10.0,-11.1];
const eSlope=[2.3,2.3,2.2,2.2,2.1,2.1,2.1,2.0,2.0,2.0,2.0,2.0];
const eStart=[5,4,3,2,0,0,0,0,0,0,0,0];
const eEnd=[9,9,9,9,9,9,9,9,9,9,9,7];
const eRatio=[0.55,0.65,0.85,0.95,1.0,1.05,1.1,1.05,1.0,0.95,1.0,1.0,1.0];
const eFactor=[1,1.05,0.95,1.1,0.9,1,1.05,0.95,1,1.1,0.9,1];

const COLORS=['#000000','#0000ff','#ff00ff','#808000','#000080','#800080','#800000','#008000','#008080','#1010a0','#ff8000','#ff0000'];
const SHAPES=['sq','ci','tu','td','di','tl','tr','hx','st','pe','tu','ci'];

const NS='http://www.w3.org/2000/svg';
const svg=document.getElementById('fig');
function make(tag,parent){const e=document.createElementNS(NS,tag);parent.appendChild(e);return e;}
function reg(n,x,y,r,rot){const a=[];for(let i=0;i<n;i++){const t=rot+i*2*Math.PI/n;a.push((x+r*Math.cos(t)).toFixed(1)+','+(y+r*Math.sin(t)).toFixed(1));}return a.join(' ');}
function starPts(x,y,r){const a=[];for(let i=0;i<10;i++){const t=-Math.PI/2+i*Math.PI/5;const rr=i%2?r*0.45:r;a.push((x+rr*Math.cos(t)).toFixed(1)+','+(y+rr*Math.sin(t)).toFixed(1));}return a.join(' ');}
function marker(g,shape,x,y,c,s){
  let e;
  if(shape==='sq'){e=make('rect',g);e.setAttribute('x',x-s);e.setAttribute('y',y-s);e.setAttribute('width',2*s);e.setAttribute('height',2*s);}
  else if(shape==='ci'){e=make('circle',g);e.setAttribute('cx',x);e.setAttribute('cy',y);e.setAttribute('r',s*1.05);}
  else{e=make('polygon',g);let p;
    if(shape==='tu')p=reg(3,x,y,s*1.3,-Math.PI/2);
    else if(shape==='td')p=reg(3,x,y,s*1.3,Math.PI/2);
    else if(shape==='tl')p=reg(3,x,y,s*1.3,Math.PI);
    else if(shape==='tr')p=reg(3,x,y,s*1.3,0);
    else if(shape==='di')p=reg(4,x,y,s*1.35,-Math.PI/2);
    else if(shape==='hx')p=reg(6,x,y,s*1.1,0);
    else if(shape==='pe')p=reg(5,x,y,s*1.15,-Math.PI/2);
    else p=starPts(x,y,s*1.45);
    e.setAttribute('points',p);}
  e.setAttribute('fill',c);
  return e;
}
function curveLog(peak,slope,p){return peak-slope*(p-0.25)+Math.log10(1-Math.exp(-p/0.08))-Math.log10(1-Math.exp(-0.25/0.08));}

function drawPanel(id,L,R,T,B,RB,yMax,yMin,yTicks,rMax,rMin,rTicks,xTicks,rap,peak,slope,start,end,ratio,factor,title,letter,legRows,legY,legMx,yTitleX,rTitleX,xTitleY){
  const g=make('g',svg);
  
  
  const xS=p=>L+p/2*(R-L);
  const yS=lg=>T+(yMax-lg)/(yMax-yMin)*(B-T);
  const rS=v=>B+(rMax-Math.log10(v))/(rMax-rMin)*(RB-B);
  const clip=make('clipPath',g);clip.setAttribute('id','clip'+id);
  const cr=make('rect',clip);cr.setAttribute('x',L);cr.setAttribute('y',T);cr.setAttribute('width',R-L);cr.setAttribute('height',B-T);
  const clip2=make('clipPath',g);clip2.setAttribute('id','clipr'+id);
  const cr2=make('rect',clip2);cr2.setAttribute('x',L);cr2.setAttribute('y',B);cr2.setAttribute('width',R-L);cr2.setAttribute('height',RB-B);
  // curves
  const cg=make('g',g);cg.setAttribute('clip-path','url(#clip'+id+')');
  for(let i=0;i<rap.length;i++){
    let d='';
    for(let p=0.004;p<=2.001;p+=0.02){d+=(d?'L':'M')+xS(p).toFixed(1)+','+yS(curveLog(peak[i],slope[i],p)).toFixed(1);}
    const path=make('path',cg);path.setAttribute('d',d);path.setAttribute('fill','none');path.setAttribute('stroke',COLORS[i]);path.setAttribute('stroke-width','1.6');
    
    
  }
  // points
  const rg=make('g',g);rg.setAttribute('clip-path','url(#clipr'+id+')');
  for(let i=0;i<rap.length;i++){
    for(let k=start[i];k<=end[i];k++){
      const p=0.05+0.1*k;const rv=ratio[k]*factor[i];
      const m=marker(cg,SHAPES[i],xS(p),yS(curveLog(peak[i],slope[i],p)+Math.log10(rv)),COLORS[i],3.3);
      
      
      const eb=make('line',rg);eb.setAttribute('x1',xS(p));eb.setAttribute('x2',xS(p));eb.setAttribute('y1',rS(rv*1.12));eb.setAttribute('y2',rS(rv/1.12));eb.setAttribute('stroke',COLORS[i]);eb.setAttribute('stroke-width','0.8');
      const m2=marker(rg,SHAPES[i],xS(p),rS(rv),COLORS[i],3.3);
      
      
    }
  }
  // dotted line at 1
  const dl=make('line',g);dl.setAttribute('x1',L);dl.setAttribute('x2',R);dl.setAttribute('y1',rS(1));dl.setAttribute('y2',rS(1));dl.setAttribute('stroke','#000');dl.setAttribute('stroke-dasharray','2,4');dl.setAttribute('stroke-width','1.2');
  
  
  // frames
  [[T,B],[B,RB]].forEach(([a,b])=>{const f=make('rect',g);f.setAttribute('x',L);f.setAttribute('y',a);f.setAttribute('width',R-L);f.setAttribute('height',b-a);f.setAttribute('fill','none');f.setAttribute('stroke','#000');f.setAttribute('stroke-width','1.3');
    
    });
  // x ticks
  xTicks.forEach(t=>{const x=xS(t);
    [[RB,RB-5],[T,T+5],[B,B-4]].forEach(([y1,y2])=>{const l=make('line',g);l.setAttribute('x1',x);l.setAttribute('x2',x);l.setAttribute('y1',y1);l.setAttribute('y2',y2);l.setAttribute('stroke','#000');});
    const tx=make('text',g);tx.setAttribute('x',x);tx.setAttribute('y',RB+16);tx.setAttribute('font-size','11');tx.setAttribute('text-anchor','middle');tx.textContent=t.toFixed(1);
    
    });
  // y ticks main
  yTicks.forEach(e=>{const y=yS(e);
    [[L,L+5],[R,R-5]].forEach(([x1,x2])=>{const l=make('line',g);l.setAttribute('x1',x1);l.setAttribute('x2',x2);l.setAttribute('y1',y);l.setAttribute('y2',y);l.setAttribute('stroke','#000');});
    const tx=make('text',g);tx.setAttribute('x',L-3);tx.setAttribute('y',y+4);tx.setAttribute('font-size','11');tx.setAttribute('text-anchor','end');
    const t1=make('tspan',tx);t1.textContent='10';
    const t2=make('tspan',tx);t2.setAttribute('dy','-5');t2.setAttribute('font-size','7');t2.textContent=String(e).replace('-','-');
    
    });
  rTicks.forEach(v=>{const y=rS(v);
    [[L,L+5],[R,R-5]].forEach(([x1,x2])=>{const l=make('line',g);l.setAttribute('x1',x1);l.setAttribute('x2',x2);l.setAttribute('y1',y);l.setAttribute('y2',y);l.setAttribute('stroke','#000');});
    const tx=make('text',g);tx.setAttribute('x',L-4);tx.setAttribute('y',y+4);tx.setAttribute('font-size','11');tx.setAttribute('text-anchor','end');tx.textContent=String(v);
    
    });
  // titles
  const tt=make('text',g);tt.setAttribute('x',L+100);tt.setAttribute('y',T+19);tt.setAttribute('font-size','13');tt.textContent=title;
  
  
  const lt=make('text',g);lt.setAttribute('x',L+252);lt.setAttribute('y',T+19);lt.setAttribute('font-size','13');lt.textContent='('+id+')';
  
  
  const pt=make('text',g);pt.setAttribute('x',L+258);pt.setAttribute('y',T+39);pt.setAttribute('font-size','12');pt.textContent='π';
  const ps=make('tspan',pt);ps.setAttribute('dy','-5');ps.setAttribute('font-size','7');ps.textContent='+';
  
  
  // legend
  legRows.forEach((row,ri)=>{row.forEach((si,ci)=>{
    const x=L+legMx+ci*67, y=legY[ri];
    const m=marker(g,SHAPES[si],x,y,COLORS[si],3.6);
    
    
    const tx=make('text',g);tx.setAttribute('x',x+18);tx.setAttribute('y',y+5);tx.setAttribute('font-size','13');tx.textContent='y≈'+rap[si];
    
    
  });});
  // axis titles
  const xt=make('text',g);xt.setAttribute('x',(L+R)/2);xt.setAttribute('y',xTitleY+5);xt.setAttribute('font-size','13');xt.setAttribute('text-anchor','middle');
  const x1=make('tspan',xt);x1.textContent='p';const x2=make('tspan',xt);x2.setAttribute('dy','3');x2.setAttribute('font-size','8');x2.textContent='T';const x3=make('tspan',xt);x3.setAttribute('dy','-3');x3.textContent=' (GeV/c)';
  
  
  const yt=make('text',g);yt.setAttribute('transform','translate('+yTitleX+','+((T+B)/2)+') rotate(-90)');yt.setAttribute('font-size','12');yt.setAttribute('text-anchor','middle');yt.setAttribute('dy','4');
  yt.textContent='d²N/dp\u209Cdy ((GeV/c)⁻¹)';
  
  
  const rt=make('text',g);rt.setAttribute('transform','translate('+rTitleX+','+((B+RB)/2)+') rotate(-90)');rt.setAttribute('font-size','12');rt.setAttribute('text-anchor','middle');rt.setAttribute('dy','4');rt.textContent='Data/Fit';
  
  
}
const ticks02=[0,0.2,0.4,0.6,0.8,1.0,1.2,1.4,1.6,1.8,2.0];
const legA=[[0],[1],[2,3,4],[5,6,7],[8,9,10]];
const legB=[[0,1],[2,3,4],[5,6,7],[8,9,10,11]];
drawPanel('a',171,453,105,314,398,2.3,-28,[0,-4,-8,-12,-16,-20,-24,-28],0.57,-1.7,[1,0.1],[0,0.5,1.0,1.5,2.0],aRap,aPeak,aSlope,aStart,aEnd,aRatio,aFactor,'pp collisions 20 GeV','a',legA,[220,240,260,279,299],14,132,134,431);
drawPanel('b',513,796,105,314,398,3.9,-26.4,[3,0,-3,-6,-9,-12,-15,-18,-21,-24],0.34,-0.56,[0.4,0.6,0.8,1,1.2,1.4,1.6,1.8,2],ticks02,bRap,bPeak,bSlope,bStart,bEnd,bRatio,bFactor,'pp collisions 31 GeV','b',legB,[244,264,284,304],15,477,479,431);
drawPanel('c',168,453,449,658,739,3.3,-27,[3,0,-3,-6,-9,-12,-15,-18,-21,-24],0.55,-0.65,[1],ticks02,cRap,cPeak,cSlope,cStart,cEnd,cRatio,cFactor,'pp collisions 40 GeV','c',legB,[586,606,626,645],17,132,145,773);
drawPanel('d',513,796,449,658,739,3.3,-27,[3,0,-3,-6,-9,-12,-15,-18,-21,-24],0.61,-0.36,[0.8,1.6,2.4,3.2,4],ticks02,dRap,dPeak,dSlope,dStart,dEnd,dRatio,dFactor,'pp collisions 80 GeV','d',legB,[586,606,626,645],15,477,479,773);
drawPanel('e',341,624,791,995,1080,3.0,-22.5,[3,0,-3,-6,-9,-12,-15,-18,-21],0.253,-0.48,[0.4,0.6,0.8,1,1.2,1.4,1.6],ticks02,eRap,ePeak,eSlope,eStart,eEnd,eRatio,eFactor,'pp collisions 158 GeV','e',legB,[926,946,966,985],17,302,307,1114);
</script>
</body></html>
